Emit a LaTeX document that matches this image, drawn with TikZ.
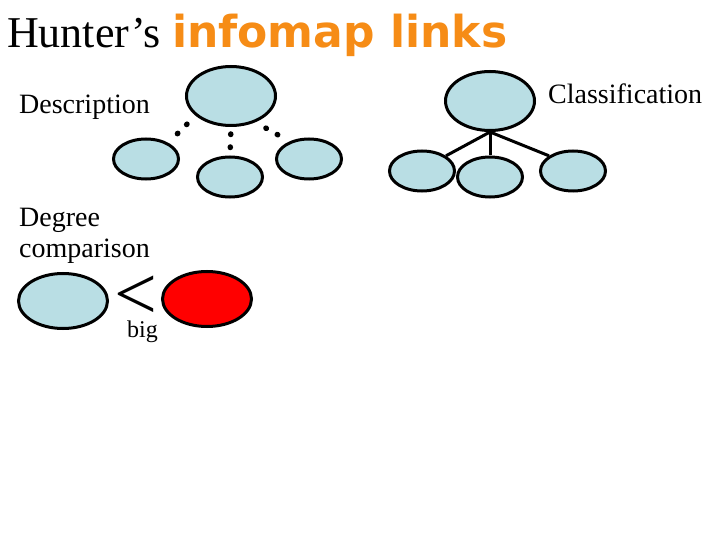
\documentclass[tikz,border=0pt]{standalone}
\usepackage{fontspec}
\setmainfont{Liberation Serif}
\newfontfamily\titlesans{DejaVu Sans}
\usetikzlibrary{shapes.geometric}
\definecolor{bubble}{RGB}{185,222,228}
\definecolor{titleorange}{RGB}{246,140,22}

\begin{document}
\begin{tikzpicture}[x=1pt, y=-1pt,
  blob/.style={ellipse, draw=black, line width=3pt, fill=bubble, inner sep=0pt},
  bigblob/.style={blob, minimum width=89pt, minimum height=59pt},
  smallblob/.style={blob, minimum width=65pt, minimum height=40pt},
  dotlink/.style={line width=5.5pt, line cap=round, dash pattern=on 0.5pt off 12.5pt, shorten <=12pt, shorten >=12pt},
  treelink/.style={line width=3pt},
  label/.style={anchor=base west, inner sep=0pt, align=left, font=\fontsize{28}{32}\selectfont}]
\useasboundingbox (0,0) rectangle (720,540);
% title
\node[anchor=base west, inner sep=0pt, font=\fontsize{44}{44}\selectfont] (hunter) at (7,48) {Hunter’s};
\node[anchor=base west, inner sep=0pt, font=\titlesans\bfseries\fontsize{44}{44}\selectfont, text=titleorange] (infomap) at (172,48) {infomap links};
% description
\node[label] (desctext) at (19,114) {Description};
\node[bigblob] (desc) at (231,96) {};
\node[smallblob] (descL) at (146,159) {};
\node[smallblob] (descM) at (230,177) {};
\node[smallblob] (descR) at (309,159) {};
\draw[dotlink] (desc.-151) -- (descL.36);
\draw[dotlink, shorten <=7pt, shorten >=7pt] (desc.south) -- (descM.north);
\draw[dotlink] (desc.-47) -- (descR.138);
% classification
\node[label] (clstext) at (548,104) {Classification};
\node[bigblob] (cls) at (490,101) {};
\node[smallblob] (clsL) at (422,171) {};
\node[smallblob] (clsM) at (490,177) {};
\node[smallblob] (clsR) at (573,171) {};
\draw[treelink] (cls.south) -- (clsL.north east);
\draw[treelink] (cls.south) -- (clsM.north);
\draw[treelink] (cls.south) -- (clsR.north west);
% degree comparison
\node[label] (degtext) at (19,258) {Degree\\comparison};
\node[blob, minimum width=89pt, minimum height=55pt] (small) at (63,301) {};
\node[blob, minimum width=89pt, minimum height=55pt, fill=red] (large) at (207,299) {};
\node[anchor=base, inner sep=0pt, text height=0.5em, text depth=0pt, font=\fontsize{76}{76}\selectfont] (less) at (136,319) {<};
\node[anchor=base west, inner sep=0pt, font=\fontsize{24}{24}\selectfont] (big) at (127,337) {big};
\end{tikzpicture}
\end{document}
